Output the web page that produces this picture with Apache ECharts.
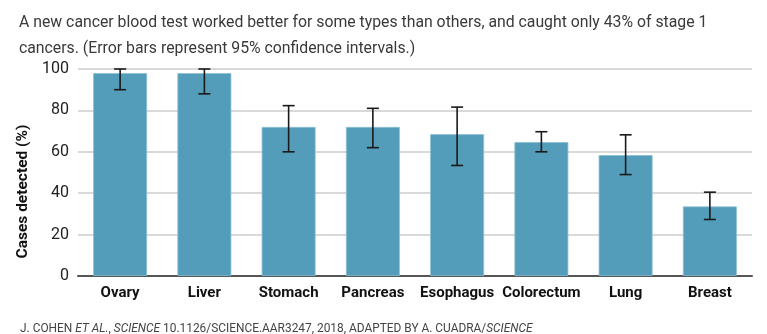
<!DOCTYPE html>
<html><head><meta charset="utf-8">
<script src="https://cdn.jsdelivr.net/npm/echarts@6/dist/echarts.min.js"></script>
<style>html,body{margin:0;padding:0;background:#fff}#c{width:767px;height:334px}</style>
</head><body><div id="c"></div>
<script>
const categories = ['Ovary','Liver','Stomach','Pancreas','Esophagus','Colorectum','Lung','Breast'];
const detected = [98, 98, 72, 72, 68.5, 64.7, 58.4, 33.6];
const ciLow = [90, 88, 60, 62, 53.4, 60, 49, 27.3];
const ciHigh = [100, 100, 82.3, 81, 81.6, 69.7, 68.2, 40.5];
const yTicks = [0, 20, 40, 60, 80, 100];

const chart = echarts.init(document.getElementById('c'), null, {renderer:'canvas'});
chart.setOption({
  animation:false,
  backgroundColor:'#fff',
  title:[{
    text:'A new cancer blood test worked better for some types than others, and caught only 43% of stage 1\ncancers. (Error bars represent 95% confidence intervals.)',
    left:14, top:5,
    textStyle:{fontFamily:'Roboto', fontSize:15.8, fontWeight:'normal', color:'#3a3a3a', lineHeight:26}
  },{
    text:'J. COHEN {i|ET AL.}, {i|SCIENCE} 10.1126/SCIENCE.AAR3247, 2018, ADAPTED BY A. CUADRA/{i|SCIENCE}',
    left:15, top:318,
    textStyle:{fontFamily:'Roboto', fontSize:11.9, fontWeight:'normal', color:'#444',
      rich:{i:{fontFamily:'Roboto', fontSize:11.9, fontStyle:'italic', color:'#444'}}}
  }],
  grid:{left:78, right:15, top:69, bottom:58},
  xAxis:{
    type:'category', data:categories,
    axisLine:{lineStyle:{color:'#555', width:2}},
    axisTick:{show:false},
    axisLabel:{fontFamily:'Roboto', fontSize:15, fontWeight:'bold', color:'#111', margin:10, interval:0}
  },
  yAxis:{
    type:'value', min:0, max:100, interval:20,
    name:'Cases detected (%)', nameLocation:'middle', nameGap:42,
    nameTextStyle:{fontFamily:'Roboto', fontSize:15.5, fontWeight:'bold', color:'#111', padding:[0,38,0,0]},
    axisLine:{show:false}, axisTick:{show:false},
    axisLabel:{fontFamily:'Roboto', fontSize:16, color:'#222', margin:9,
      formatter:v=>yTicks.includes(v)?String(v):''},
    splitLine:{lineStyle:{color:'#ccc', width:1.5}}
  },
  series:[{
    type:'bar', data:detected, barWidth:'64%',
    itemStyle:{color:'#539cba', borderColor:'#8cc0d4', borderWidth:0.8}
  },{
    type:'custom', z:10,
    data:categories.map((c,i)=>[i, ciLow[i], ciHigh[i]]),
    renderItem:function(params, api){
      const x = api.value(0);
      const lo = api.coord([x, api.value(1)]);
      const hi = api.coord([x, api.value(2)]);
      const hw = 6;
      const st = {stroke:'#1a1a1a', lineWidth:1.6};
      return {type:'group', children:[
        {type:'line', shape:{x1:lo[0], y1:lo[1], x2:hi[0], y2:hi[1]}, style:st},
        {type:'line', shape:{x1:lo[0]-hw, y1:lo[1], x2:lo[0]+hw, y2:lo[1]}, style:st},
        {type:'line', shape:{x1:hi[0]-hw, y1:hi[1], x2:hi[0]+hw, y2:hi[1]}, style:st}
      ]};
    }
  }]
});
</script></body></html>
